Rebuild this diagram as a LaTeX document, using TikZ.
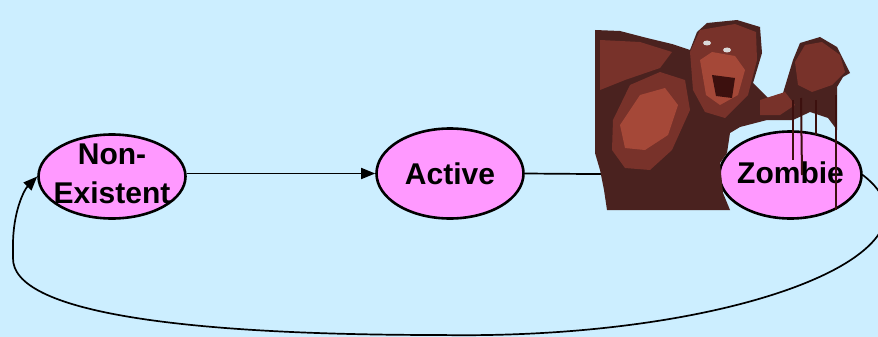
\documentclass[tikz,border=0pt]{standalone}
\usepackage{fontspec}
\setmainfont{Liberation Sans}
\usetikzlibrary{shapes.geometric,arrows.meta}
\definecolor{bgblue}{RGB}{204,238,255}
\definecolor{statepink}{RGB}{255,153,255}
\definecolor{zdark}{RGB}{74,34,31}
\definecolor{zmid}{RGB}{120,50,42}
\definecolor{zlight}{RGB}{165,72,56}
\definecolor{zdrip}{RGB}{60,16,14}
\newcommand{\stxt}[2]{\smash{\raisebox{#1}{\makebox[0pt][c]{\setlength{\tabcolsep}{0pt}\begin{tabular}{c}#2\end{tabular}}}}}
\tikzset{
  state/.style={ellipse,draw=black,line width=2.6pt,fill=statepink,inner sep=0pt,
    font=\fontsize{30}{36}\selectfont\bfseries},
  conn/.style={line width=1.7pt,-{Triangle[length=14pt,width=11pt]}},
}
\begin{document}
\begin{tikzpicture}[x=1pt,y=-1pt]
\useasboundingbox (0,0) rectangle (878,337);
\fill[bgblue] (0,0) rectangle (878,337);

\node[state,minimum width=147pt,minimum height=84pt] (ne) at (112,176.5)
  {\stxt{-7pt}{Non-\\[3pt]Existent}};
\node[state,minimum width=147pt,minimum height=90pt] (act) at (450,173.5)
  {\stxt{-10.5pt}{Active}};
\node[state,minimum width=142pt,minimum height=87pt] (zb) at (790.5,175)
  {\stxt{-8pt}{Zombie}};

\draw[conn] (ne.east |- act.west) -- (act.west);
\draw[conn] (act.east) -- (zb.west);
\draw[conn] (zb.east) .. controls (960,250) and (740,340) .. (440,335)
  .. controls (180,335) and (12,312) .. (13,258) -- (13,245)
  .. controls (13,212) and (24,190) .. (ne.west);

% zombie picture (approximated)
\fill[zdark] (595,30) -- (620,31) -- (647,38) -- (672,44) -- (690,50) -- (697,32)
  -- (707,23) -- (737,20) -- (760,27) -- (762,53) -- (753,83) -- (768,98)
  -- (780,103) -- (793,60) -- (800,43) -- (820,37) -- (837,47) -- (850,73)
  -- (843,77) -- (837,87) -- (837,130) -- (828,118) -- (810,112) -- (793,120)
  -- (767,120) -- (740,127) -- (730,133) -- (727,153) -- (720,163) -- (723,193)
  -- (730,210) -- (607,210) -- (604,190) -- (600,170) -- (595,153) -- cycle;
\fill[zmid] (600,40) -- (640,42) -- (672,52) -- (660,68) -- (625,80) -- (600,90) -- cycle;
\fill[zmid] (690,52) -- (700,30) -- (735,24) -- (756,32) -- (757,60) -- (748,95)
  -- (725,118) -- (705,112) -- (693,90) -- cycle;
\fill[zmid] (613,120) -- (630,85) -- (660,72) -- (685,80) -- (690,110) -- (672,150)
  -- (650,170) -- (625,168) -- (612,150) -- cycle;
\fill[zlight] (620,125) -- (640,95) -- (665,88) -- (678,105) -- (668,135) -- (645,150)
  -- (625,148) -- cycle;
\fill[zmid] (795,62) -- (805,45) -- (822,42) -- (840,55) -- (845,72) -- (832,85)
  -- (812,92) -- (798,85) -- cycle;
\fill[zmid] (760,100) -- (785,92) -- (795,105) -- (780,115) -- (760,115) -- cycle;
\fill[zlight] (700,60) -- (712,52) -- (735,56) -- (745,70) -- (738,95) -- (720,105)
  -- (706,95) -- cycle;
\fill[zdrip] (712,75) -- (735,78) -- (732,98) -- (716,96) -- cycle;
\fill[black!15] (707,43) ellipse [x radius=4pt,y radius=2.5pt];
\fill[black!15] (727,50) ellipse [x radius=4pt,y radius=2.5pt];
\draw[zdrip,line width=1.5pt] (793,100) -- (793,160);
\draw[zdrip,line width=2pt] (801,98) -- (802,175);
\draw[zdrip,line width=1.2pt] (816,100) -- (816,135);
\draw[zdrip,line width=2.5pt] (836,95) -- (836,210);
\end{tikzpicture}
\end{document}
